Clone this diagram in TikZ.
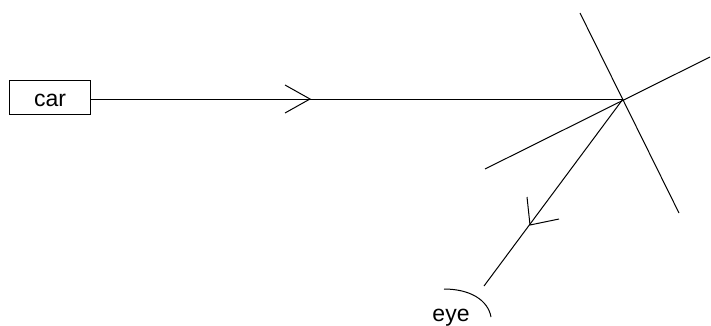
\documentclass[tikz,border=0pt]{standalone}
\usepackage{fontspec}
\setmainfont{Liberation Sans}

\begin{document}
\begin{tikzpicture}[x=1pt,y=-1pt,line width=1pt,
  objbox/.style={draw,minimum width=81pt,minimum height=34pt,inner sep=0pt},
  objtext/.style={inner sep=0pt,font=\fontsize{23}{26}\selectfont}]
\useasboundingbox (0,0) rectangle (711,325);
\coordinate (hit) at (623,99);
\coordinate (m1a) at (580,13);
\coordinate (m1b) at (679,213);
\coordinate (m2a) at (485,169);
\coordinate (m2b) at (710,57);
\coordinate (rayend) at (484,286);

% the car and the eye
\node[objbox] (car) at (50,97.5) {};
\node[objtext,anchor=base] (carlabel) at (50,106) {car};
\node[objtext,anchor=base] (eye) at (451,321) {eye};
% the two mirrors
\draw (m1a) -- (m1b);
\draw (m2a) -- (m2b);
% incoming ray and reflected ray
\draw (car.east|-hit) -- (hit);
\draw (hit) -- (rayend);
% arrow heads on the rays
\coordinate (tip1) at (310,99);
\coordinate (tip2) at (530,225);
\draw (285,85) -- (tip1) -- (285,113);
\draw (527,197) -- (tip2) -- (559,219);
% the eye
\draw (444,289) .. controls (470,289) and (488,300) .. (491,317);
\end{tikzpicture}
\end{document}
